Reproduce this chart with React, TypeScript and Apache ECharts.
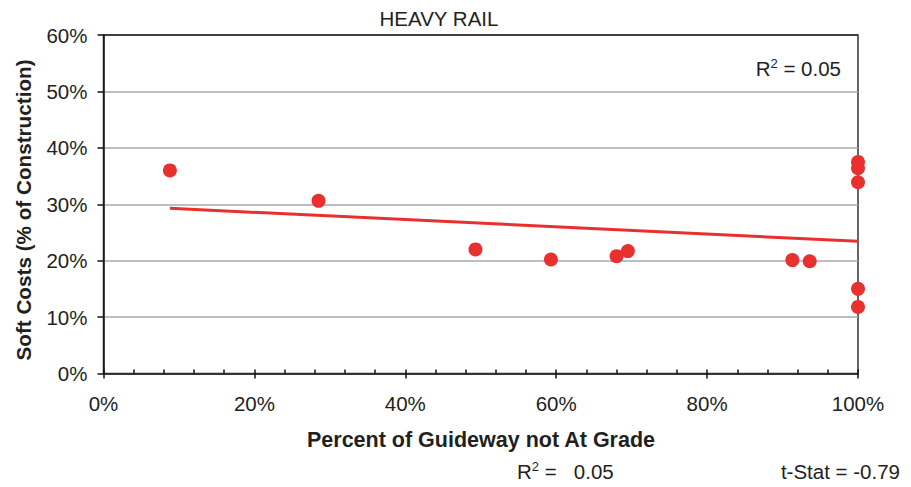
import React, { useEffect, useRef } from "react";
import * as echarts from "echarts";

const pctNotAtGrade = [8.8, 28.5, 49.3, 59.3, 68.0, 69.5, 91.3, 93.6, 100, 100, 100, 100, 100];
const softCosts = [36.0, 30.6, 22.0, 20.2, 20.8, 21.7, 20.1, 19.9, 37.5, 36.4, 33.9, 15.0, 11.8];
const chartTitle = "HEAVY RAIL";
const xName = "Percent of Guideway not At Grade";
const yName = "Soft Costs (% of Construction)";
const r2Value = "0.05";
const tStat = "-0.79";

const FONT = "'Liberation Sans', Arial, Helvetica, sans-serif";
const RED = "#e8302e";
const TXT = "#231f20";
const FS = 20.5;

function regression(xs: number[], ys: number[]) {
  const n = xs.length;
  const mx = xs.reduce((a, b) => a + b, 0) / n;
  const my = ys.reduce((a, b) => a + b, 0) / n;
  let sxy = 0, sxx = 0;
  for (let i = 0; i < n; i++) {
    sxy += (xs[i] - mx) * (ys[i] - my);
    sxx += (xs[i] - mx) * (xs[i] - mx);
  }
  const b = sxy / sxx;
  return { a: my - b * mx, b };
}

export default function App() {
  const ref = useRef<HTMLDivElement>(null);
  useEffect(() => {
    if (!ref.current) return;
    const chart = echarts.init(ref.current, undefined, { renderer: "svg" });
    const { a, b } = regression(pctNotAtGrade, softCosts);
    const xMin = Math.min(...pctNotAtGrade);
    const xMax = Math.max(...pctNotAtGrade);
    const trend = [[xMin, a + b * xMin], [xMax, a + b * xMax]];
    const gridColors = ["#a7a9ac", "#a7a9ac", "#a7a9ac", "#a7a9ac", "#a7a9ac", "#a7a9ac", "#333333"];
    const rich = {
      a: { fontSize: FS, fill: TXT, fontFamily: FONT, verticalAlign: "bottom" },
      s: { fontSize: 13, fill: TXT, fontFamily: FONT, verticalAlign: "top", padding: [0, 0, 9, 0] },
    };
    chart.setOption({
      animation: false,
      textStyle: { fontFamily: FONT },
      grid: {
        left: 103.5,
        right: 53,
        top: 35,
        bottom: 113.5,
        show: true,
        borderColor: "#333333",
        borderWidth: 1.5,
        backgroundColor: "transparent",
      },
      xAxis: [
        {
          type: "value",
          min: 0,
          max: 100,
          interval: 20,
          axisLine: { show: true, lineStyle: { color: "#111", width: 1.5 } },
          axisTick: { show: true, inside: false, length: 5, lineStyle: { color: "#111", width: 1.5 } },
          axisLabel: { formatter: "{value}%", fontSize: FS, color: TXT, margin: 19, fontFamily: FONT },
          splitLine: { show: false },
        },
        {
          type: "value",
          min: 0,
          max: 100,
          interval: 4,
          position: "bottom",
          axisLine: { show: false },
          axisTick: { show: true, inside: true, length: 4, lineStyle: { color: "#111", width: 1.5 } },
          axisLabel: { show: false },
          splitLine: { show: false },
        },
      ],
      yAxis: {
        type: "value",
        min: 0,
        max: 60,
        interval: 10,
        axisLine: { show: true, lineStyle: { color: "#111", width: 1.5 } },
        axisTick: { show: true, inside: false, length: 6, lineStyle: { color: "#111", width: 1.5 } },
        axisLabel: { formatter: "{value}%", fontSize: FS, color: TXT, margin: 16, fontFamily: FONT },
        splitLine: { show: true, lineStyle: { color: gridColors, width: 1.5 } },
      },
      series: [
        {
          type: "line",
          data: trend,
          symbol: "none",
          lineStyle: { color: RED, width: 3 },
          z: 2,
        },
        {
          type: "scatter",
          data: pctNotAtGrade.map((x, i) => [x, softCosts[i]]),
          symbol: "circle",
          symbolSize: 14,
          itemStyle: { color: RED, opacity: 1 },
          z: 3,
        },
      ],
      graphic: [
        {
          type: "text",
          x: 439,
          y: 18,
          style: { text: chartTitle, fontSize: FS, fill: TXT, fontFamily: FONT, align: "center", verticalAlign: "middle" },
        },
        {
          type: "text",
          x: 481,
          y: 440,
          style: { text: xName, fontSize: 21.5, fontWeight: "bold", fill: TXT, fontFamily: FONT, align: "center", verticalAlign: "middle" },
        },
        {
          type: "text",
          x: 23,
          y: 210,
          rotation: Math.PI / 2,
          style: { text: yName, fontSize: 20.7, fontWeight: "bold", fill: TXT, fontFamily: FONT, align: "center", verticalAlign: "middle" },
        },
        {
          type: "text",
          x: 841,
          y: 68,
          style: {
            text: "{a|R}{s|2}{a| = " + r2Value + "}",
            align: "right",
            verticalAlign: "middle",
            rich,
          },
        },
        {
          type: "text",
          x: 517,
          y: 471,
          style: {
            text: "{a|R}{s|2}{a| =   " + r2Value + "}",
            align: "left",
            verticalAlign: "middle",
            rich,
          },
        },
        {
          type: "text",
          x: 900,
          y: 471,
          style: { text: "t-Stat = " + tStat, fontSize: FS, fill: TXT, fontFamily: FONT, align: "right", verticalAlign: "middle" },
        },
      ],
    });
    return () => chart.dispose();
  }, []);
  return (
    <div
      ref={ref}
      style={{ position: "fixed", left: 0, top: 0, width: 911, height: 487, background: "#fff" }}
    />
  );
}
